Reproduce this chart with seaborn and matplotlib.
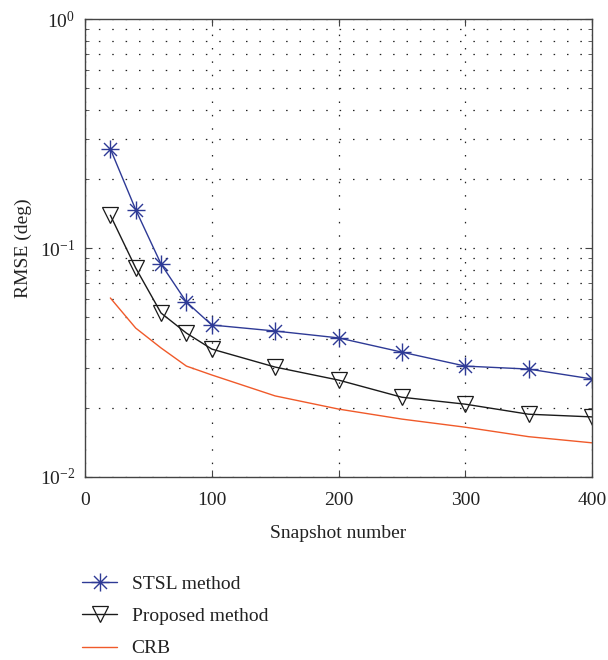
import numpy as np
import pandas as pd
import matplotlib
matplotlib.use("Agg")
import matplotlib.pyplot as plt
from matplotlib.path import Path
from matplotlib.ticker import LogLocator, FixedLocator, NullFormatter
import seaborn as sns

# Snapshot counts and RMSE (deg) for each estimator
snapshots = [20, 40, 60, 80, 100, 150, 200, 250, 300, 350, 400]
stsl_rmse = [0.271, 0.147, 0.0851, 0.0581, 0.0461, 0.0434, 0.0405, 0.0351, 0.0305, 0.0296, 0.0268]
proposed_rmse = [0.139, 0.0818, 0.052, 0.0425, 0.0362, 0.0302, 0.0265, 0.0223, 0.0208, 0.0188, 0.0183]
crb_rmse = [0.0605, 0.0447, 0.0366, 0.0305, 0.0279, 0.0226, 0.0198, 0.0179, 0.0165, 0.0150, 0.0141]
series_names = ["STSL method", "Proposed method", "CRB"]
x_ticks = [0, 100, 200, 300, 400]

sns.set_style("ticks")
plt.rcParams["font.family"] = ["Liberation Serif", "DejaVu Serif"]
plt.rcParams["mathtext.fontset"] = "custom"
plt.rcParams["mathtext.rm"] = "Liberation Serif"
plt.rcParams["mathtext.it"] = "Liberation Serif:italic"

df = pd.DataFrame({
    "snapshot": snapshots * 3,
    "rmse": stsl_rmse + proposed_rmse + crb_rmse,
    "method": np.repeat(series_names, len(snapshots)),
})

# eight-armed asterisk marker
asterisk = Path(
    [(-1, 0), (1, 0), (0, -1), (0, 1), (-0.72, -0.72), (0.72, 0.72), (-0.72, 0.72), (0.72, -0.72)],
    [Path.MOVETO, Path.LINETO] * 4,
)

styles = {
    "STSL method": dict(color="#2e3a96", marker=asterisk, markersize=13, markeredgewidth=1.0),
    "Proposed method": dict(color="#1a1a1a", marker="v", markersize=11.5, markeredgewidth=0.9),
    "CRB": dict(color="#f05a2a", marker=None),
}

fig = plt.figure(figsize=(6.08, 6.60), dpi=100)
ax = fig.add_axes([85 / 608, 1 - 477 / 660, 507 / 608, 458 / 660])

for name in series_names:
    sub = df[df["method"] == name]
    st = styles[name]
    kws = dict(color=st["color"], linewidth=1.0, label=name)
    if st["marker"] is not None:
        kws.update(marker=st["marker"], markersize=st["markersize"],
                   markerfacecolor="none", markeredgecolor=st["color"],
                   markeredgewidth=st["markeredgewidth"])
    sns.lineplot(data=sub, x="snapshot", y="rmse", ax=ax, **kws)

ax.set_yscale("log")
ax.set_ylim(1e-2, 1e0)
ax.set_xlim(0, 400)
ax.xaxis.set_major_locator(FixedLocator(x_ticks))
ax.yaxis.set_major_locator(LogLocator(base=10, numticks=10))
ax.yaxis.set_minor_locator(LogLocator(base=10, subs=np.arange(2, 10), numticks=20))
ax.yaxis.set_minor_formatter(NullFormatter())

dot = (0, (1.2, 9.5))
ax.grid(True, which="major", axis="both", color="#222222", linestyle=dot, linewidth=0.9)
ax.grid(True, which="minor", axis="y", color="#222222", linestyle=dot, linewidth=0.9)

for sp in ax.spines.values():
    sp.set_color("#444444")
    sp.set_linewidth(1.0)
ax.tick_params(which="both", direction="in", top=True, right=True, colors="#444444",
               labelcolor="#222222", labelsize=14)
ax.tick_params(which="major", length=5)
ax.tick_params(which="minor", length=3)
ax.tick_params(axis="x", which="major", pad=11)
ax.tick_params(axis="y", which="major", pad=7)

ax.set_xlabel("Snapshot number", fontsize=14, color="#222222", labelpad=11.5)
ax.set_ylabel("RMSE (deg)", fontsize=14, color="#222222", labelpad=5.5)

handles, labels = ax.get_legend_handles_labels()
if ax.get_legend() is not None:
    ax.get_legend().remove()
fig.legend(handles, labels, loc="upper left", bbox_to_anchor=(82 / 608, 1 - 575 / 660),
           frameon=False, fontsize=14, handlelength=1.8, handletextpad=0.75,
           labelspacing=0.76, borderpad=0, borderaxespad=0, labelcolor="#222222")

fig.savefig("out.png", dpi=100)
